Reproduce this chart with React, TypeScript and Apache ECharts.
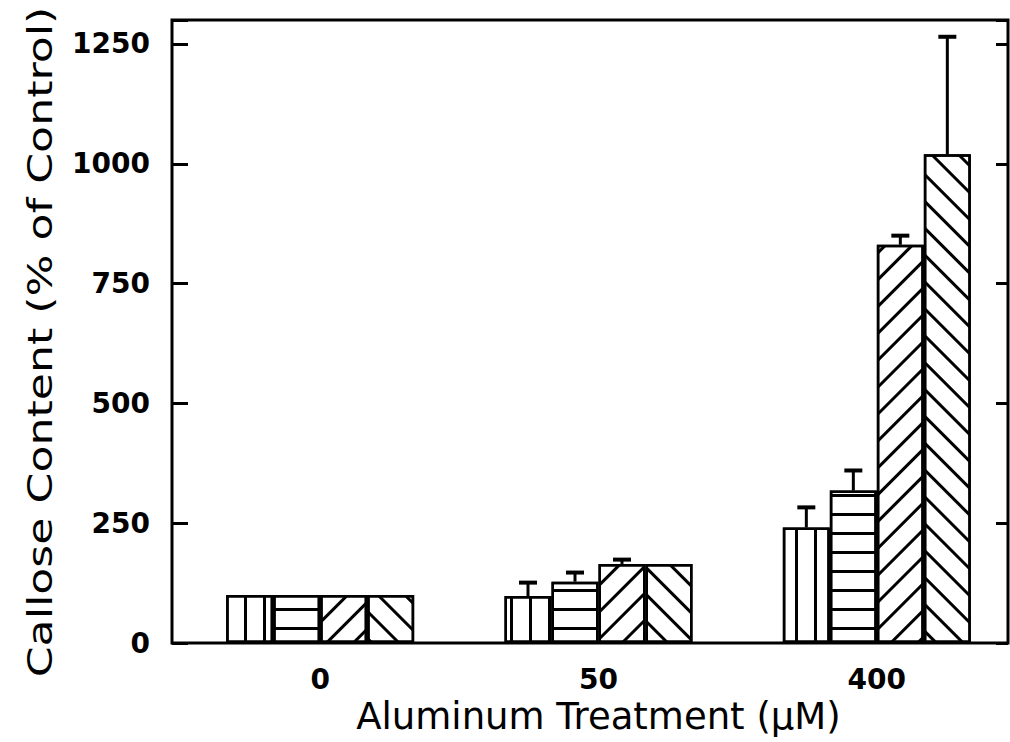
import React, { useEffect, useRef } from "react";
import * as echarts from "echarts";

// ---- data ----
const categories = ["0", "50", "400"];
const barVertical = [100, 98, 241];
const barHorizontal = [100, 128, 318];
const barForward = [100, 165, 831];
const barBackward = [100, 165, 1020];
const errVertical = [null, 28, 42];
const errHorizontal = [null, 19, 42];
const errForward = [null, 9, 19];
const errBackward = [null, null, 245];
const yTicks = [0, 250, 500, 750, 1000, 1250];
const yMax = 1300;
const yTitle = "Callose Content (% of Control)";
const xTitle = "Aluminum Treatment (\u03BCM)";

const BAR_W = 47;
const FONT = "'DejaVu Sans', 'Noto Sans', sans-serif";

function stripe(rotation: number, thick: number, period: number) {
  return {
    symbol: "rect",
    symbolSize: 1,
    color: "#000",
    dashArrayX: [40, 0],
    dashArrayY: [thick, period - thick],
    rotation,
  };
}

export default function App() {
  const ref = useRef<HTMLDivElement>(null);
  useEffect(() => {
    if (!ref.current) return;
    const chart = echarts.init(ref.current, null, { renderer: "svg" });

    const values = [barVertical, barHorizontal, barForward, barBackward];
    const errs = [errVertical, errHorizontal, errForward, errBackward];
    const decals = [
      stripe(Math.PI / 2, 3, 19),
      stripe(0, 3, 19),
      stripe(-Math.PI / 4, 3, 19),
      stripe(Math.PI / 4, 3, 19),
    ];

    const errData: any[] = [];
    errs.forEach((arr, bi) => {
      arr.forEach((e, ci) => {
        if (e != null) errData.push([ci, values[bi][ci], e, bi]);
      });
    });

    const barSeries = values.map((vals, i) => ({
      type: "bar",
      xAxisIndex: 1,
      yAxisIndex: 2,
      data: vals,
      barWidth: BAR_W,
      barGap: "0%",
      itemStyle: {
        color: "#fff",
        borderColor: "#000",
        borderWidth: 2.5,
        decal: decals[i],
      },
      emphasis: { disabled: true },
      z: 2,
    }));

    chart.setOption({
      animation: false,
      backgroundColor: "#fff",
      grid: [
        {
          left: 172,
          top: 20,
          right: 2,
          bottom: 99,
          show: true,
          borderColor: "#000",
          borderWidth: 3,
          backgroundColor: "transparent",
          outerBoundsMode: "none",
          containLabel: false,
          z: 3,
        },
        {
          left: 181,
          top: 20,
          right: -6,
          bottom: 99,
          outerBoundsMode: "none",
          containLabel: false,
        },
      ],
      graphic: [
        {
          type: "text",
          x: 40,
          y: 342,
          rotation: Math.PI / 2,
          scaleX: 1.3,
          style: {
            text: yTitle,
            fontSize: 34,
            fontFamily: FONT,
            fill: "#000",
            align: "center",
            verticalAlign: "middle",
          },
        },
      ],
      xAxis: [
        {
          gridIndex: 0,
          type: "value",
          min: 0,
          max: 1,
          show: false,
        },
        {
          gridIndex: 1,
          type: "category",
          data: categories,
          axisLine: { show: false },
          axisTick: { show: false },
          axisLabel: {
            margin: 22,
            fontSize: 28,
            fontWeight: "bold",
            fontFamily: FONT,
            color: "#000",
          },
          name: xTitle,
          nameLocation: "middle",
          nameGap: 50,
          nameTextStyle: {
            fontSize: 37,
            fontFamily: FONT,
            color: "#000",
            verticalAlign: "top",
          },
        },
      ],
      yAxis: [
        {
          gridIndex: 0,
          type: "value",
          min: 0,
          max: yMax,
          interval: 250,
          position: "left",
          axisLine: { show: false },
          splitLine: { show: false },
          axisTick: {
            show: true,
            inside: true,
            length: 16,
            lineStyle: { color: "#000", width: 3 },
          },
          axisLabel: {
            margin: 22,
            fontSize: 28,
            fontWeight: "bold",
            fontFamily: FONT,
            color: "#000",
            formatter: (v: number) => (yTicks.includes(v) ? String(v) : ""),
          },
        },
        {
          gridIndex: 0,
          type: "value",
          min: 0,
          max: yMax,
          interval: 250,
          position: "right",
          axisLine: { show: false },
          splitLine: { show: false },
          axisLabel: { show: false },
          axisTick: {
            show: true,
            inside: true,
            length: 12,
            lineStyle: { color: "#000", width: 3 },
          },
        },
        {
          gridIndex: 1,
          type: "value",
          min: 0,
          max: yMax,
          show: false,
        },
      ],
      series: [
        ...barSeries,
        {
          type: "custom",
          xAxisIndex: 1,
          yAxisIndex: 2,
          data: errData,
          z: 4,
          renderItem: (params: any, api: any) => {
            const ci = api.value(0);
            const v = api.value(1);
            const e = api.value(2);
            const bi = api.value(3);
            const base = api.coord([ci, v]);
            const top = api.coord([ci, v + e]);
            const x = base[0] + (bi - 1.5) * BAR_W;
            return {
              type: "group",
              children: [
                {
                  type: "line",
                  shape: { x1: x, y1: base[1], x2: x, y2: top[1] },
                  style: { stroke: "#000", lineWidth: 3 },
                },
                {
                  type: "line",
                  shape: { x1: x - 9, y1: top[1], x2: x + 9, y2: top[1] },
                  style: { stroke: "#000", lineWidth: 4 },
                },
              ],
            };
          },
        },
      ],
    });

    return () => chart.dispose();
  }, []);

  return (
    <div
      ref={ref}
      style={{ position: "fixed", left: 0, top: 0, width: 1010, height: 742 }}
    />
  );
}
